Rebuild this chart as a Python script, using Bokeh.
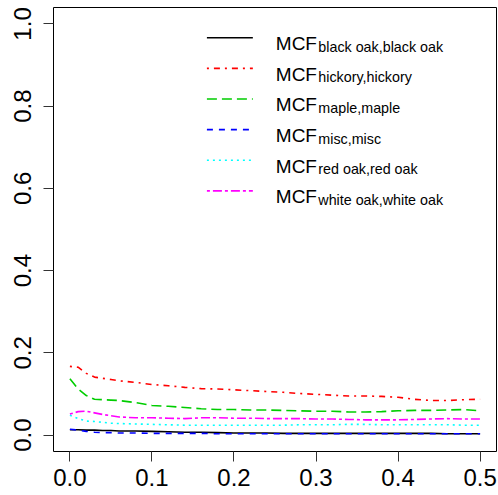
from bokeh.plotting import figure
from bokeh.models import Range1d, FixedTicker, PrintfTickFormatter
from bokeh.core.properties import value
from bokeh.embed import file_html
from bokeh.resources import INLINE

# ---- data ----
x_vals = [0.00, 0.01, 0.02, 0.03, 0.04, 0.05, 0.06, 0.08, 0.10, 0.12, 0.14, 0.16, 0.18,
          0.20, 0.22, 0.24, 0.26, 0.28, 0.30, 0.32, 0.34, 0.36, 0.38, 0.40, 0.42,
          0.44, 0.46, 0.48, 0.50]

black_oak = [0.013, 0.013, 0.012, 0.012, 0.011, 0.011, 0.010, 0.010, 0.009, 0.008, 0.007,
             0.007, 0.006, 0.005, 0.005, 0.005, 0.004, 0.004, 0.004, 0.004, 0.004, 0.004,
             0.004, 0.004, 0.004, 0.004, 0.003, 0.003, 0.003]
hickory = [0.167, 0.165, 0.150, 0.141, 0.138, 0.135, 0.132, 0.128, 0.123, 0.120, 0.116,
           0.113, 0.112, 0.110, 0.108, 0.106, 0.104, 0.101, 0.099, 0.097, 0.095, 0.095,
           0.094, 0.092, 0.087, 0.084, 0.084, 0.086, 0.087]
maple = [0.137, 0.112, 0.096, 0.087, 0.086, 0.085, 0.084, 0.079, 0.072, 0.070, 0.067,
         0.064, 0.062, 0.062, 0.061, 0.061, 0.060, 0.059, 0.058, 0.058, 0.056, 0.056,
         0.057, 0.059, 0.060, 0.060, 0.061, 0.062, 0.059]
misc = [0.014, 0.012, 0.009, 0.007, 0.006, 0.006, 0.005, 0.005, 0.004, 0.004, 0.004,
        0.004, 0.003, 0.003, 0.003, 0.003, 0.003, 0.003, 0.003, 0.003, 0.003, 0.003,
        0.003, 0.003, 0.003, 0.003, 0.003, 0.003, 0.003]
red_oak = [0.048, 0.040, 0.034, 0.033, 0.031, 0.029, 0.028, 0.027, 0.026, 0.025, 0.024,
           0.024, 0.024, 0.024, 0.024, 0.024, 0.024, 0.025, 0.025, 0.025, 0.026, 0.026,
           0.025, 0.025, 0.025, 0.025, 0.025, 0.024, 0.024]
white_oak = [0.051, 0.057, 0.058, 0.054, 0.050, 0.047, 0.044, 0.042, 0.042, 0.041, 0.040,
             0.042, 0.042, 0.041, 0.041, 0.040, 0.040, 0.040, 0.039, 0.039, 0.038, 0.037,
             0.037, 0.037, 0.038, 0.039, 0.040, 0.039, 0.039]

series = [black_oak, hickory, maple, misc, red_oak, white_oak]
subscripts = ["black oak,black oak", "hickory,hickory", "maple,maple",
              "misc,misc", "red oak,red oak", "white oak,white oak"]
colors = ["#000000", "#FF0000", "#00CD00", "#0000FF", "#00FFFF", "#FF00FF"]
dashes = ["solid", "2 5 6 5", "10 5", "6 6", "2 4", "3 3 9 3"]

x_ticks = [0.0, 0.1, 0.2, 0.3, 0.4, 0.5]
y_ticks = [0.0, 0.2, 0.4, 0.6, 0.8, 1.0]

FONT = "Liberation Sans"
LW = 1.6

p = figure(width=498, height=495, x_range=Range1d(-0.02, 0.52), y_range=Range1d(-0.04, 1.04),
           output_backend="svg", toolbar_location=None,
           min_border_left=53, min_border_right=2, min_border_top=7, min_border_bottom=44)
p.background_fill_color = "white"
p.border_fill_color = "white"
p.outline_line_color = "black"
p.outline_line_width = 1
p.xgrid.visible = False
p.ygrid.visible = False

for ax, ticks in ((p.xaxis[0], x_ticks), (p.yaxis[0], y_ticks)):
    ax.ticker = FixedTicker(ticks=ticks)
    ax.formatter = PrintfTickFormatter(format="%.1f")
    ax.axis_line_color = None
    ax.major_tick_out = 10
    ax.major_tick_in = 0
    ax.minor_tick_line_color = None
    ax.major_tick_line_color = "#333333"
    ax.major_label_text_font = FONT
    ax.major_label_text_font_size = "24px"
    ax.major_label_text_color = "black"
p.xaxis.major_label_standoff = 7
p.yaxis.major_label_standoff = 12
p.yaxis.major_label_orientation = "vertical"

for ys, c, d in zip(series, colors, dashes):
    p.line(x_vals, ys, line_color=c, line_width=LW, line_dash=d)

# ---- legend (drawn by hand to allow subscripts) ----
LEG_X0, LEG_X1, LEG_TX = 0.167, 0.223, 0.251
LEG_Y0, LEG_DY = 0.9665, 0.0745
for i, (c, d, s) in enumerate(zip(colors, dashes, subscripts)):
    yy = LEG_Y0 - i * LEG_DY
    p.line([LEG_X0, LEG_X1], [yy, yy], line_color=c, line_width=LW, line_dash=d)
    p.text([LEG_TX], [yy], text=["MCF"], text_font=value(FONT), text_font_size="19px",
           text_baseline="alphabetic", text_align="left", y_offset=6, text_color="black")
    p.text([LEG_TX], [yy], text=[s], text_font=value(FONT), text_font_size="14.3px",
           text_baseline="alphabetic", text_align="left", x_offset=42.5, y_offset=9,
           text_color="black")

open("out.html", "w").write(file_html(p, INLINE))
